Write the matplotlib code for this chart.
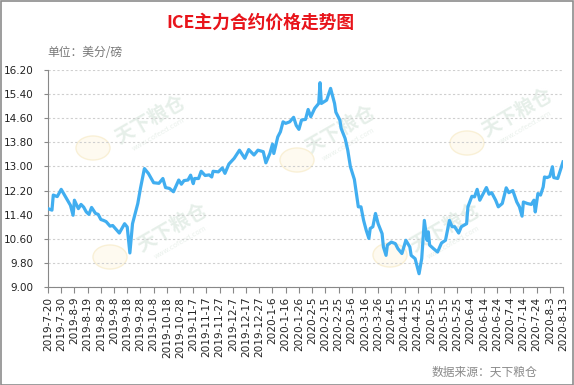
import matplotlib
matplotlib.use("Agg")
import matplotlib.pyplot as plt
from matplotlib.patches import Rectangle, Ellipse
import pandas as pd

plt.rcParams['font.family'] = ['DejaVu Sans', 'Noto Sans CJK SC']

dates = [
    "2019-07-20", "2019-07-23", "2019-07-24", "2019-07-27", "2019-07-30", "2019-08-03", "2019-08-06",
    "2019-08-08", "2019-08-09", "2019-08-12", "2019-08-14", "2019-08-16", "2019-08-18", "2019-08-20",
    "2019-08-22", "2019-08-25", "2019-08-27", "2019-08-29", "2019-08-31", "2019-09-02", "2019-09-05",
    "2019-09-07", "2019-09-09", "2019-09-12", "2019-09-16", "2019-09-18", "2019-09-20", "2019-09-22",
    "2019-09-25", "2019-09-26", "2019-09-28", "2019-10-01", "2019-10-04", "2019-10-08", "2019-10-12",
    "2019-10-15", "2019-10-17", "2019-10-20", "2019-10-23", "2019-10-27", "2019-10-29", "2019-10-31",
    "2019-11-03", "2019-11-05", "2019-11-07", "2019-11-08", "2019-11-11", "2019-11-13", "2019-11-16",
    "2019-11-19", "2019-11-21", "2019-11-22", "2019-11-26", "2019-11-29", "2019-12-01", "2019-12-04",
    "2019-12-08", "2019-12-12", "2019-12-16", "2019-12-19", "2019-12-23", "2019-12-26", "2019-12-30",
    "2020-01-01", "2020-01-04", "2020-01-06", "2020-01-07", "2020-01-10", "2020-01-12", "2020-01-14",
    "2020-01-16", "2020-01-19", "2020-01-22", "2020-01-24", "2020-01-26", "2020-01-28", "2020-01-31",
    "2020-02-02", "2020-02-04", "2020-02-07", "2020-02-10", "2020-02-11", "2020-02-12", "2020-02-16",
    "2020-02-19", "2020-02-22", "2020-02-23", "2020-02-26", "2020-02-27", "2020-03-01", "2020-03-03",
    "2020-03-05", "2020-03-07", "2020-03-08", "2020-03-11", "2020-03-13", "2020-03-15", "2020-03-17",
    "2020-03-19", "2020-03-20", "2020-03-22", "2020-03-24", "2020-03-26", "2020-03-29", "2020-03-30",
    "2020-04-01", "2020-04-02", "2020-04-05", "2020-04-08", "2020-04-10", "2020-04-13", "2020-04-16",
    "2020-04-19", "2020-04-20", "2020-04-23", "2020-04-26", "2020-04-28", "2020-04-30", "2020-05-02",
    "2020-05-03", "2020-05-04", "2020-05-07", "2020-05-10", "2020-05-13", "2020-05-16", "2020-05-19",
    "2020-05-21", "2020-05-23", "2020-05-26", "2020-05-28", "2020-06-01", "2020-06-02", "2020-06-05",
    "2020-06-07", "2020-06-09", "2020-06-11", "2020-06-14", "2020-06-16", "2020-06-18", "2020-06-20",
    "2020-06-23", "2020-06-25", "2020-06-28", "2020-07-01", "2020-07-03", "2020-07-06", "2020-07-09",
    "2020-07-11", "2020-07-13", "2020-07-14", "2020-07-17", "2020-07-20", "2020-07-22", "2020-07-23",
    "2020-07-25", "2020-07-27", "2020-07-29", "2020-07-30", "2020-08-01", "2020-08-03", "2020-08-05",
    "2020-08-06", "2020-08-09", "2020-08-11", "2020-08-13",
]
prices = [
    11.60, 11.55, 12.05, 12.00, 12.24, 11.94, 11.71,
    11.38, 11.88, 11.60, 11.74, 11.65, 11.49, 11.41,
    11.64, 11.44, 11.41, 11.24, 11.21, 11.17, 11.02,
    11.04, 10.94, 10.79, 11.10, 10.99, 10.13, 11.10,
    11.60, 11.77, 12.27, 12.93, 12.77, 12.46, 12.44,
    12.60, 12.30, 12.27, 12.16, 12.55, 12.41, 12.53,
    12.55, 12.71, 12.43, 12.60, 12.60, 12.84, 12.70,
    12.72, 12.65, 12.84, 12.82, 12.95, 12.77, 13.08,
    13.27, 13.54, 13.27, 13.56, 13.38, 13.54, 13.49,
    13.12, 13.43, 13.74, 13.43, 13.98, 14.15, 14.48,
    14.43, 14.48, 14.63, 14.36, 14.23, 14.54, 14.56,
    14.89, 14.65, 14.93, 15.09, 15.78, 15.09, 15.20,
    15.59, 15.09, 14.80, 14.54, 14.26, 13.93, 13.54,
    12.99, 12.71, 12.57, 11.66, 11.66, 11.21, 10.88,
    10.61, 10.94, 11.00, 11.44, 11.10, 10.77, 10.33,
    10.05, 10.39, 10.49, 10.44, 10.27, 10.11, 10.55,
    10.33, 10.05, 9.94, 9.44, 9.94, 11.21, 10.55,
    10.83, 10.39, 10.27, 10.16, 10.46, 10.55, 11.21,
    11.00, 11.00, 10.79, 11.00, 11.10, 11.66, 12.01,
    11.99, 12.24, 11.88, 12.13, 12.30, 12.08, 12.13,
    11.88, 11.66, 11.77, 12.29, 12.13, 12.20, 11.82,
    11.66, 11.35, 11.82, 11.77, 11.74, 11.88, 11.49,
    12.10, 12.05, 12.32, 12.65, 12.63, 12.67, 12.99,
    12.63, 12.60, 12.88, 13.15,
]
tick_labels = [
    "2019-7-20", "2019-7-30", "2019-8-9", "2019-8-19", "2019-8-29", "2019-9-8", "2019-9-18",
    "2019-9-28", "2019-10-8", "2019-10-18", "2019-10-28", "2019-11-7", "2019-11-17", "2019-11-27",
    "2019-12-7", "2019-12-17", "2019-12-27", "2020-1-6", "2020-1-16", "2020-1-26", "2020-2-5",
    "2020-2-15", "2020-2-25", "2020-3-6", "2020-3-16", "2020-3-26", "2020-4-5", "2020-4-15",
    "2020-4-25", "2020-5-5", "2020-5-15", "2020-5-25", "2020-6-4", "2020-6-14", "2020-6-24",
    "2020-7-4", "2020-7-14", "2020-7-24", "2020-8-3", "2020-8-13",
]
y_ticks = [9.00, 9.80, 10.60, 11.40, 12.20, 13.00, 13.80, 14.60, 15.40, 16.20]

title = "ICE主力合约价格走势图"
unit_text = "单位：美分/磅"
source_text = "数据来源：天下粮仓"
watermark_text = "天下粮仓"

W, H = 574, 385
fig = plt.figure(figsize=(W / 100, H / 100), dpi=100)
fig.patch.set_facecolor("white")

def fx(px):
    return px / W

def fy(py):
    return 1 - py / H

ax = fig.add_axes([fx(48), fy(287), fx(563) - fx(48), fy(70) - fy(287)])
ax.set_facecolor("none")

# watermarks (very faint), drawn beneath the line
cjk = ['Noto Sans CJK SC', 'DejaVu Sans']
for (tx, ty), (lx, ly) in [((150, 120), (93, 148)), ((172, 228), (110, 257)),
                           ((340, 130), (297, 160)), ((445, 228), (390, 255)),
                           ((517, 113), (467, 143))]:
    ax.text(fx(tx), fy(ty), watermark_text, rotation=30, ha="center", va="center",
            fontsize=14, fontweight="bold", color="#e6efe9", family=cjk, zorder=0.5,
            transform=fig.transFigure, clip_on=False)
    ax.text(fx(tx + 8), fy(ty + 14), "www.cofeed.com", rotation=30, ha="center", va="center",
            fontsize=5, color="#eaf1ec", zorder=0.5, transform=fig.transFigure, clip_on=False)
    ax.add_patch(Ellipse((fx(lx), fy(ly)), fx(34), 24 / H, angle=0,
                         transform=fig.transFigure, facecolor="#fefaf0",
                         edgecolor="#f9f0d6", lw=1.0, zorder=0.5, clip_on=False))

x = pd.to_datetime(dates)
ax.plot(x, prices, color="#41AEF0", lw=2.3, solid_joinstyle="round", zorder=3)

tick_dates = pd.date_range("2019-07-20", periods=len(tick_labels), freq="10D")
ax.set_xlim(tick_dates[0], tick_dates[-1])
ax.set_xticks(tick_dates)
ax.set_xticklabels(tick_labels, rotation=90, fontsize=7.6, color="#222222", va="top", ha="center")
ax.set_ylim(9.0, 16.2)
ax.set_yticks(y_ticks)
ax.set_yticklabels([f"{v:.2f}" for v in y_ticks], fontsize=7.5, color="#222222")

ax.yaxis.grid(True, linestyle=(0, (2, 2)), color="#cfcfcf", lw=0.8, zorder=0.2)
ax.set_axisbelow(True)
for s in ["top", "right"]:
    ax.spines[s].set_visible(False)
for s in ["left", "bottom"]:
    ax.spines[s].set_color("#888888")
    ax.spines[s].set_linewidth(0.8)
ax.tick_params(axis="y", length=3, width=0.8, color="#888888", pad=7.5)
ax.tick_params(axis="x", length=4, width=0.8, color="#888888", pad=3)

fig.text(fx(260), fy(23), title, ha="center", va="center", fontsize=12.8,
         fontweight="bold", color="#E8141B", family=cjk)
fig.text(fx(47), fy(53), unit_text, ha="left", va="center", fontsize=8.5,
         color="#777777", family=cjk)
fig.text(fx(537), fy(372), source_text, ha="right", va="center", fontsize=8.5,
         color="#8a8a8a", family=cjk, style="italic")

fig.patches.append(Rectangle((0.5 / W, 0.5 / H), 1 - 1.5 / W, 1 - 1.5 / H,
                             transform=fig.transFigure, fill=False,
                             edgecolor="#8c8c8c", lw=1.2, zorder=10))

fig.savefig("out.png", dpi=100)
